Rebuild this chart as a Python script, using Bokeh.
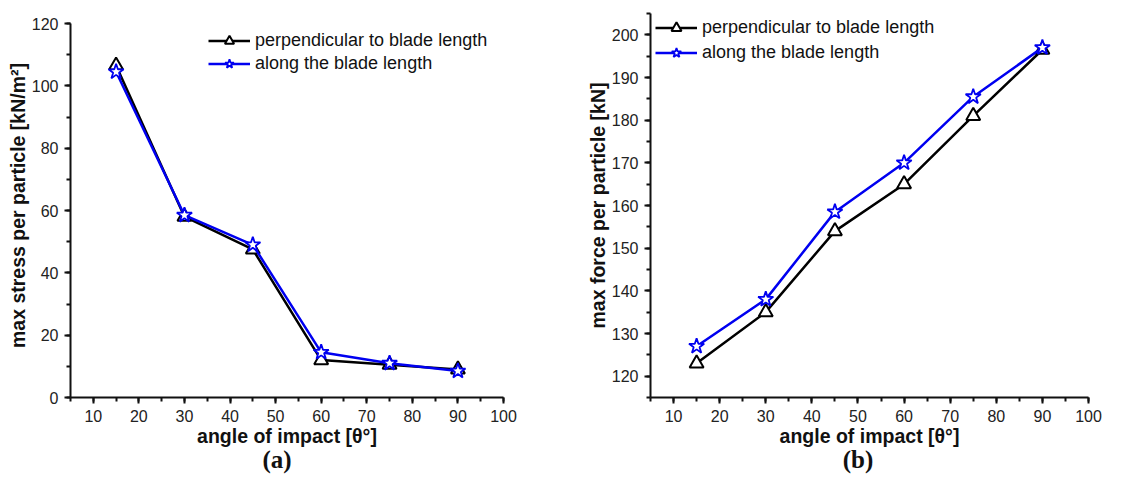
from bokeh.plotting import figure
from bokeh.layouts import row, column
from bokeh.models import Range1d, SingleIntervalTicker, Legend, LegendItem, Div
from bokeh.embed import file_html
from bokeh.resources import INLINE

angles = [15, 30, 45, 60, 75, 90]
stress_perp = [106.5, 58.0, 47.5, 12.0, 10.5, 9.0]
stress_along = [104.5, 58.5, 49.0, 14.5, 11.0, 8.5]
force_perp = [123.0, 135.0, 154.0, 165.0, 181.0, 196.5]
force_along = [127.0, 138.0, 158.5, 170.0, 185.5, 197.0]
label_perp = "perpendicular to blade length"
label_along = "along the blade length"
xlabel = "angle of impact [θ°]"
tags = ["(a)", "(b)"]

FONT = "Liberation Sans"
FH = 384  # frame height
FIG_H = 13 + FH + 54


def make(ylabel, yp, ya, yr, ybounds, yint, bleft, fw, legend_loc, row_h):
    p = figure(width=574, height=FIG_H, output_backend="svg", toolbar_location=None,
               x_range=Range1d(5, 100), y_range=Range1d(*yr),
               min_border_left=bleft, min_border_right=574 - bleft - fw,
               min_border_top=13, min_border_bottom=54)
    p.outline_line_color = None
    p.xgrid.visible = False
    p.ygrid.visible = False
    p.xaxis.ticker = SingleIntervalTicker(interval=10, num_minor_ticks=2)
    p.yaxis.ticker = SingleIntervalTicker(interval=yint, num_minor_ticks=2)
    p.yaxis.bounds = ybounds
    for ax in (p.xaxis, p.yaxis):
        ax.axis_line_width = 2
        ax.axis_line_color = "#111111"
        ax.major_tick_line_width = 2
        ax.minor_tick_line_width = 2
        ax.major_tick_line_color = "#111111"
        ax.minor_tick_line_color = "#111111"
        ax.major_tick_out = 6
        ax.major_tick_in = 0
        ax.minor_tick_out = 4
        ax.minor_tick_in = 0
        ax.major_label_text_font = FONT
        ax.major_label_text_font_size = "16px"
        ax.major_label_text_color = "#222222"
        ax.axis_label_text_font = FONT
        ax.axis_label_text_font_style = "bold"
        ax.axis_label_text_font_size = "19.5px"
        ax.axis_label_text_color = "#111111"
    p.xaxis.axis_label = xlabel
    p.yaxis.axis_label = ylabel
    p.xaxis.major_label_standoff = 6
    p.yaxis.major_label_standoff = 6
    p.xaxis.axis_label_standoff = 0
    p.yaxis.axis_label_standoff = 0

    l1 = p.line(angles, yp, line_color="black", line_width=2.5)
    s1 = p.scatter(angles, yp, marker="triangle", size=14, fill_color="white",
                   line_color="black", line_width=2)
    l2 = p.line(angles, ya, line_color="#0000f0", line_width=2.5)
    s2 = p.scatter(angles, ya, marker="star", size=16, fill_color="white",
                   line_color="#0000f0", line_width=1.8)

    leg = Legend(items=[LegendItem(label=label_perp, renderers=[l1, s1]),
                        LegendItem(label=label_along, renderers=[l2, s2])],
                 location=legend_loc, padding=0, margin=0, spacing=0,
                 glyph_width=42, glyph_height=row_h, label_height=row_h,
                 label_standoff=5, border_line_color=None, background_fill_alpha=0,
                 label_text_font=FONT, label_text_font_size="18px",
                 label_text_color="#111111")
    p.add_layout(leg, "center")
    return p


top_a = 120 * FH / (FH - 10)
pa = make("max stress per particle [kN/m²]", stress_perp, stress_along, (0, top_a), (0, 120), 20,
          70, 433, (138, FH - 15.5 - 46), 23)
pb = make("max force per particle [kN]", force_perp, force_along, (115, 205), (115, 205), 10,
          76, 438, (5, FH - 1.5 - 50), 25)

span = ('<span style="position:absolute;left:{x}px;top:-4px;width:60px;margin-left:-30px;'
        'text-align:center;">{t}</span>')
html = ('<div style="position:relative;width:1148px;height:30px;font-family:\'Liberation Serif\';'
        'font-weight:bold;font-size:25px;line-height:25px;color:#111111;">'
        + span.format(x=277, t=tags[0]) + span.format(x=858, t=tags[1]) + '</div>')
tag_div = Div(text=html, width=1148, height=30, margin=0)

layout = column(row(pa, pb), tag_div)
open("out.html", "w").write(file_html(layout, INLINE))
